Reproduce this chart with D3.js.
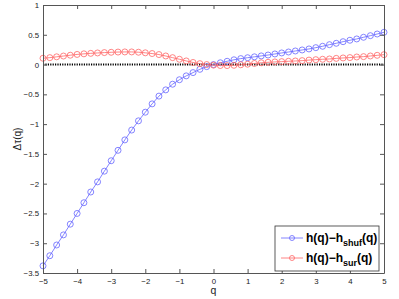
<!DOCTYPE html>
<html><head><meta charset="utf-8">
<script src="https://cdn.jsdelivr.net/npm/d3@7"></script>
<style>body{margin:0;background:#fff}svg{display:block}text{font-family:"Liberation Sans",Arial,sans-serif}</style>
</head><body>
<svg id="c" width="399" height="299"></svg>
<script>
const qValues = d3.range(51).map(i => -5 + i * 0.2);
const shufValues = [-3.38,-3.21,-3.03,-2.86,-2.68,-2.50,-2.32,-2.14,-1.97,-1.79,-1.615,-1.44,-1.265,-1.10,-0.945,-0.80,-0.66,-0.53,-0.425,-0.33,-0.255,-0.19,-0.135,-0.08,-0.035,0.0,0.03,0.055,0.08,0.10,0.115,0.13,0.145,0.16,0.178,0.195,0.211,0.228,0.245,0.262,0.284,0.307,0.334,0.357,0.384,0.408,0.430,0.458,0.485,0.513,0.542];
const surValues = [0.106,0.116,0.13,0.143,0.157,0.17,0.18,0.188,0.195,0.201,0.206,0.21,0.212,0.212,0.207,0.197,0.185,0.168,0.144,0.116,0.089,0.061,0.035,0.015,0.0,-0.01,-0.016,-0.017,-0.012,-0.004,0.006,0.018,0.03,0.038,0.044,0.049,0.055,0.06,0.066,0.075,0.082,0.089,0.094,0.104,0.111,0.117,0.127,0.133,0.144,0.155,0.166];
const xTicks = [-5,-4,-3,-2,-1,0,1,2,3,4,5];
const yTicks = [1,0.5,0,-0.5,-1,-1.5,-2,-2.5,-3,-3.5];
const seriesNames = ["shuf","sur"];
const seriesColors = ["#6666ff","#ff6666"];

const svg = d3.select("#c");
const L = 43, R = 384, T = 5, B = 273;
const x = d3.scaleLinear().domain([-5,5]).range([L,R]);
const y = d3.scaleLinear().domain([-3.5,1]).range([B,T]);
const fmt = v => (v < 0 ? "\u2212" : "") + Math.abs(v);
const axisCol = "#555";

// zero dotted line
svg.append("line").attr("x1",L).attr("x2",R).attr("y1",y(0)).attr("y2",y(0))
  .attr("stroke","#000").attr("stroke-width",2).attr("stroke-dasharray","1.2,1.2");

// series
const series = [shufValues, surValues];
series.forEach((vals,i) => {
  const pts = qValues.map((q,j) => [q, vals[j]]);
  svg.append("path").datum(pts)
    .attr("d", d3.line().x(d=>x(d[0])).y(d=>y(d[1])))
    .attr("fill","none").attr("stroke",seriesColors[i]).attr("stroke-width",0.8);
  svg.append("g").selectAll("circle").data(pts).join("circle")
    .attr("cx",d=>x(d[0])).attr("cy",d=>y(d[1])).attr("r",3)
    .attr("fill","none").attr("stroke",seriesColors[i]).attr("stroke-width",0.8);
});

// axes
const gx = svg.append("g").attr("transform",`translate(0,${B})`)
  .call(d3.axisBottom(x).tickValues(xTicks).tickFormat(fmt).tickSizeInner(-4).tickSizeOuter(0).tickPadding(5));
const gxt = svg.append("g").attr("transform",`translate(0,${T})`)
  .call(d3.axisTop(x).tickValues(xTicks).tickFormat("").tickSizeInner(-4).tickSizeOuter(0));
const gy = svg.append("g").attr("transform",`translate(${L},0)`)
  .call(d3.axisLeft(y).tickValues(yTicks).tickFormat(fmt).tickSizeInner(-4).tickSizeOuter(0).tickPadding(4));
const gyr = svg.append("g").attr("transform",`translate(${R},0)`)
  .call(d3.axisRight(y).tickValues(yTicks).tickFormat("").tickSizeInner(-4).tickSizeOuter(0));
[gx,gxt,gy,gyr].forEach(g => {
  g.select(".domain").attr("stroke",axisCol);
  g.selectAll(".tick line").attr("stroke",axisCol);
  g.selectAll("text").attr("fill","#222").style("font-size","7.8px").style("font-family","Liberation Sans, Arial, sans-serif");
});

// axis labels
svg.append("text").attr("x",(L+R)/2).attr("y",294).attr("text-anchor","middle")
  .style("font-size","10.5px").attr("fill","#222").text("q");
svg.append("text").attr("transform",`translate(21,${(T+B)/2}) rotate(-90)`).attr("text-anchor","middle")
  .style("font-size","10px").attr("fill","#222").text("\u0394\u03c4(q)");

// legend
const lg = svg.append("g");
lg.append("rect").attr("x",275).attr("y",226).attr("width",104).attr("height",45)
  .attr("fill","#fff").attr("stroke","#333").attr("stroke-width",0.8);
seriesNames.forEach((nm,i) => {
  const yy = 238 + i*20;
  lg.append("line").attr("x1",281).attr("x2",303).attr("y1",yy).attr("y2",yy)
    .attr("stroke",seriesColors[i]).attr("stroke-width",0.8);
  lg.append("circle").attr("cx",292).attr("cy",yy).attr("r",2.5)
    .attr("fill","none").attr("stroke",seriesColors[i]).attr("stroke-width",0.8);
  const t = lg.append("text").attr("x",306).attr("y",yy+4).style("font-size","12px")
    .style("font-weight","bold").attr("fill","#000");
  t.append("tspan").text("h(q)\u2212h");
  t.append("tspan").attr("dy",4).style("font-size","9px").text(nm);
  t.append("tspan").attr("dy",-4).text("(q)");
});
</script>
</body></html>
